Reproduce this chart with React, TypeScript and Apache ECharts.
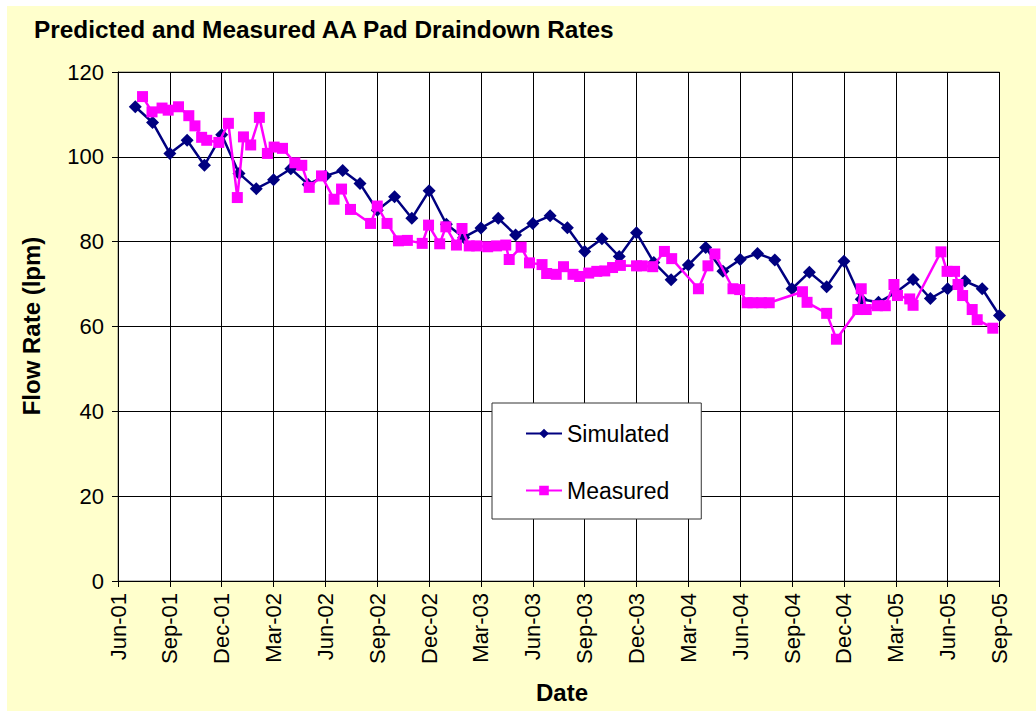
import React, { useEffect, useRef } from 'react';
import * as echarts from 'echarts';

const chartTitle = 'Predicted and Measured AA Pad Draindown Rates';
const yAxisTitle = 'Flow Rate (lpm)';
const xAxisTitle = 'Date';

const xTickLabels = [
  'Jun-01', 'Sep-01', 'Dec-01', 'Mar-02', 'Jun-02', 'Sep-02', 'Dec-02', 'Mar-03', 'Jun-03',
  'Sep-03', 'Dec-03', 'Mar-04', 'Jun-04', 'Sep-04', 'Dec-04', 'Mar-05', 'Jun-05', 'Sep-05',
];

// Simulated: monthly values, first of month, Jul-01 .. Oct-05
const simulatedMonths = [
  '2001-07', '2001-08', '2001-09', '2001-10', '2001-11', '2001-12',
  '2002-01', '2002-02', '2002-03', '2002-04', '2002-05', '2002-06',
  '2002-07', '2002-08', '2002-09', '2002-10', '2002-11', '2002-12',
  '2003-01', '2003-02', '2003-03', '2003-04', '2003-05', '2003-06',
  '2003-07', '2003-08', '2003-09', '2003-10', '2003-11', '2003-12',
  '2004-01', '2004-02', '2004-03', '2004-04', '2004-05', '2004-06',
  '2004-07', '2004-08', '2004-09', '2004-10', '2004-11', '2004-12',
  '2005-01', '2005-02', '2005-03', '2005-04', '2005-05', '2005-06',
  '2005-07', '2005-08', '2005-09', '2005-10',
];
const simulatedValues = [
  111.8, 108.1, 100.8, 103.9, 98.0, 105.2,
  96.1, 92.5, 94.6, 97.2, 93.5, 95.5,
  96.8, 93.7, 87.4, 90.6, 85.5, 92.0,
  84.1, 81.0, 83.2, 85.5, 81.6, 84.3,
  86.1, 83.3, 77.7, 80.7, 76.5, 82.1,
  75.1, 71.0, 74.5, 78.6, 73.0, 75.8,
  77.2, 75.7, 68.9, 72.8, 69.4, 75.4,
  66.4, 65.7, 68.0, 71.1, 66.6, 68.9,
  70.7, 68.9, 62.6, 70.0,
];

const measuredDates = [
  '2001-07-14', '2001-07-31', '2001-08-18', '2001-08-29', '2001-09-16', '2001-10-04',
  '2001-10-15', '2001-10-27', '2001-11-05', '2001-11-26', '2001-12-13', '2001-12-29',
  '2002-01-09', '2002-01-22', '2002-02-06', '2002-02-19', '2002-03-02', '2002-03-17',
  '2002-04-08', '2002-04-20', '2002-05-03', '2002-05-25', '2002-06-16', '2002-06-29',
  '2002-07-15', '2002-08-20', '2002-09-01', '2002-09-18', '2002-10-08', '2002-10-24',
  '2002-11-19', '2002-11-30', '2002-12-20', '2002-12-31', '2003-01-19', '2003-01-29',
  '2003-02-10', '2003-02-22', '2003-03-13', '2003-03-29', '2003-04-14', '2003-04-20',
  '2003-05-11', '2003-05-26', '2003-06-17', '2003-06-25', '2003-07-12', '2003-07-25',
  '2003-08-11', '2003-08-23', '2003-09-08', '2003-09-22', '2003-10-06', '2003-10-20',
  '2003-11-03', '2003-12-01', '2003-12-11', '2003-12-30', '2004-01-20', '2004-02-02',
  '2004-03-19', '2004-04-05', '2004-04-17', '2004-05-19', '2004-05-31', '2004-06-13',
  '2004-06-23', '2004-07-08', '2004-07-22', '2004-09-19', '2004-09-27', '2004-11-01',
  '2004-11-18', '2004-12-26', '2005-01-01', '2005-01-10', '2005-01-30', '2005-02-12',
  '2005-02-26', '2005-03-04', '2005-03-26', '2005-04-01', '2005-05-20', '2005-05-31',
  '2005-06-13', '2005-06-19', '2005-06-27', '2005-07-14', '2005-07-23', '2005-08-20',
];
const measuredValues = [
  114.2, 110.6, 111.5, 111.0, 111.8, 109.7,
  107.3, 104.6, 103.9, 103.4, 107.9, 90.4,
  104.7, 102.8, 109.3, 100.8, 102.3, 102.0,
  98.6, 98.0, 92.8, 95.5, 90.0, 92.4,
  87.6, 84.3, 88.4, 84.3, 80.2, 80.3,
  79.6, 83.9, 79.5, 83.5, 79.2, 83.1,
  79.0, 79.0, 78.8, 79.0, 79.2, 75.8,
  78.7, 75.0, 74.6, 72.5, 72.3, 74.1,
  72.3, 71.8, 72.6, 73.0, 73.1, 73.9,
  74.4, 74.3, 74.3, 74.1, 77.7, 76.0,
  68.9, 74.3, 77.1, 68.9, 68.7, 65.6,
  65.6, 65.6, 65.6, 68.2, 65.7, 63.1,
  57.0, 64.0, 68.9, 64.0, 64.9, 64.9,
  69.9, 67.3, 66.5, 65.0, 77.6, 73.0,
  73.0, 69.9, 67.3, 64.0, 61.6, 59.6,
];

// months elapsed since 1 Jun 2001 (fractional within month)
function monthIndex(dateStr: string): number {
  const parts = dateStr.split('-').map(Number);
  const y = parts[0];
  const m = parts[1];
  const d = parts[2] || 1;
  const dim = new Date(Date.UTC(y, m, 0)).getUTCDate();
  return (y - 2001) * 12 + (m - 6) + (d - 1) / dim;
}

const FONT = '"Liberation Sans", Arial, sans-serif';

export default function App() {
  const ref = useRef<HTMLDivElement>(null);

  useEffect(() => {
    document.body.style.margin = '0';
    if (!ref.current) return;
    const chart = echarts.init(ref.current, undefined, { renderer: 'svg' });

    const simData = simulatedMonths.map((m, i) => [monthIndex(m + '-01'), simulatedValues[i]]);
    const measData = measuredDates.map((d, i) => [monthIndex(d), measuredValues[i]]);

    chart.setOption({
      animation: false,
      backgroundColor: 'transparent',
      textStyle: { fontFamily: FONT },
      title: {
        text: chartTitle,
        left: 34,
        top: 17,
        padding: 0,
        textStyle: { fontFamily: FONT, fontSize: 24.4, fontWeight: 'bold', color: '#000' },
      },
      grid: {
        left: 118,
        top: 72,
        right: 36.5,
        bottom: 130,
        show: true,
        backgroundColor: '#ffffff',
        borderColor: '#808080',
        borderWidth: 1,
      },
      legend: {
        orient: 'vertical',
        left: 492,
        top: 403,
        padding: [19, 32, 17, 33],
        itemGap: 34,
        itemWidth: 36,
        itemHeight: 12,
        backgroundColor: '#ffffff',
        borderColor: '#333',
        borderWidth: 1,
        textStyle: { fontFamily: FONT, fontSize: 23, color: '#000' },
        data: ['Simulated', 'Measured'],
      },
      xAxis: {
        type: 'value',
        min: 0,
        max: 51,
        interval: 3,
        axisLine: { show: true, lineStyle: { color: '#000', width: 1 } },
        axisTick: { show: true, length: 6, lineStyle: { color: '#000' } },
        axisLabel: {
          rotate: 90,
          margin: 12,
          fontSize: 22,
          fontFamily: FONT,
          color: '#000',
          formatter: (v: number) => xTickLabels[Math.round(v / 3)] || '',
        },
        splitLine: { show: true, lineStyle: { color: '#000', width: 1 } },
      },
      yAxis: {
        type: 'value',
        min: 0,
        max: 120,
        interval: 20,
        axisLine: { show: true, lineStyle: { color: '#000', width: 1 } },
        axisTick: { show: true, length: 6, lineStyle: { color: '#000' } },
        axisLabel: { margin: 14, fontSize: 22, fontFamily: FONT, color: '#000' },
        splitLine: { show: true, lineStyle: { color: '#000', width: 1 } },
      },
      graphic: [
        {
          type: 'text',
          x: 31,
          y: 326,
          rotation: Math.PI / 2,
          style: {
            text: yAxisTitle,
            align: 'center',
            verticalAlign: 'middle',
            font: 'bold 24px ' + FONT,
            fill: '#000',
          },
        },
        {
          type: 'text',
          x: 562,
          y: 692,
          style: {
            text: xAxisTitle,
            align: 'center',
            verticalAlign: 'middle',
            font: 'bold 24px ' + FONT,
            fill: '#000',
          },
        },
      ],
      series: [
        {
          name: 'Simulated',
          type: 'line',
          data: simData,
          symbol: 'diamond',
          symbolSize: 13,
          showAllSymbol: true,
          lineStyle: { color: '#000080', width: 2.5 },
          itemStyle: { color: '#000080' },
          z: 3,
        },
        {
          name: 'Measured',
          type: 'line',
          data: measData,
          symbol: 'rect',
          symbolSize: 11,
          showAllSymbol: true,
          lineStyle: { color: '#FF00FF', width: 2.5 },
          itemStyle: { color: '#FF00FF' },
          z: 4,
        },
      ],
    });

    return () => chart.dispose();
  }, []);

  return (
    <div style={{ position: 'absolute', left: 0, top: 0, width: 1036, height: 711, background: '#ffffff' }}>
      <div style={{ position: 'absolute', left: 7, top: 6, right: 0, bottom: 0, background: '#FFFFCC' }} />
      <div ref={ref} style={{ position: 'absolute', left: 0, top: 0, width: 1036, height: 711 }} />
    </div>
  );
}
